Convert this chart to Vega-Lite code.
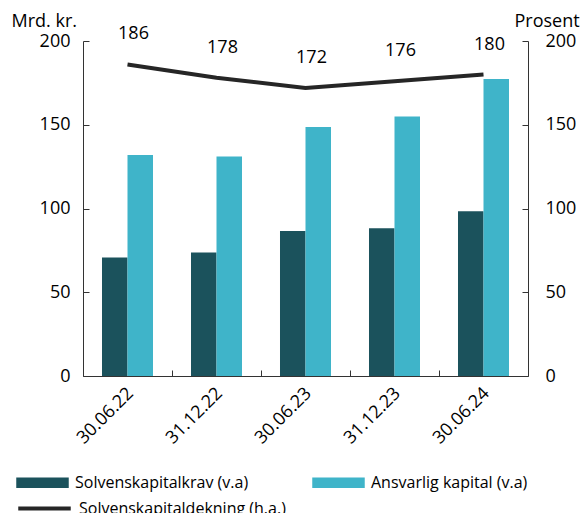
{
  "$schema": "https://vega.github.io/schema/vega-lite/v6.json",
  "width": 445,
  "height": 335,
  "autosize": {"type": "none"},
  "padding": {"left": 83, "top": 41, "right": 57, "bottom": 137},
  "config": {
    "font": "Open Sans",
    "view": {"stroke": null},
    "axis": {"labelFont": "Open Sans", "titleFont": "Open Sans", "labelColor": "#000", "titleColor": "#000", "domainColor": "#333", "tickColor": "#333", "grid": false},
    "legend": {"labelFont": "Open Sans", "labelColor": "#000", "labelLimit": 0}
  },
  "datasets": {
    "bars": [
      {"dato": "30.06.22", "serie": "Solvenskapitalkrav (v.a)", "verdi": 70.8},
      {"dato": "30.06.22", "serie": "Ansvarlig kapital (v.a)", "verdi": 131.9},
      {"dato": "31.12.22", "serie": "Solvenskapitalkrav (v.a)", "verdi": 73.8},
      {"dato": "31.12.22", "serie": "Ansvarlig kapital (v.a)", "verdi": 131.1},
      {"dato": "30.06.23", "serie": "Solvenskapitalkrav (v.a)", "verdi": 86.6},
      {"dato": "30.06.23", "serie": "Ansvarlig kapital (v.a)", "verdi": 148.7},
      {"dato": "31.12.23", "serie": "Solvenskapitalkrav (v.a)", "verdi": 88.2},
      {"dato": "31.12.23", "serie": "Ansvarlig kapital (v.a)", "verdi": 155.0},
      {"dato": "30.06.24", "serie": "Solvenskapitalkrav (v.a)", "verdi": 98.3},
      {"dato": "30.06.24", "serie": "Ansvarlig kapital (v.a)", "verdi": 177.3}
    ],
    "linje": [
      {"dato": "30.06.22", "serie": "Solvenskapitaldekning (h.a.)", "prosent": 186},
      {"dato": "31.12.22", "serie": "Solvenskapitaldekning (h.a.)", "prosent": 178},
      {"dato": "30.06.23", "serie": "Solvenskapitaldekning (h.a.)", "prosent": 172},
      {"dato": "31.12.23", "serie": "Solvenskapitaldekning (h.a.)", "prosent": 176},
      {"dato": "30.06.24", "serie": "Solvenskapitaldekning (h.a.)", "prosent": 180}
    ]
  },
  "layer": [
    {
      "data": {"name": "bars"},
      "mark": {"type": "bar"},
      "encoding": {
        "x": {
          "field": "dato", "type": "nominal", "sort": null,
          "scale": {"paddingInner": 0, "paddingOuter": 0},
          "axis": {"title": null, "labelAngle": -45, "labelFontSize": 18, "labelPadding": 14, "labelOffset": -3, "tickSize": -6, "bandPosition": 0, "domainColor": "#333"}
        },
        "xOffset": {
          "field": "serie", "type": "nominal",
          "sort": ["Solvenskapitalkrav (v.a)", "Ansvarlig kapital (v.a)"],
          "scale": {"paddingInner": 0, "paddingOuter": 0.745}
        },
        "y": {
          "field": "verdi", "type": "quantitative",
          "scale": {"domain": [0, 200], "nice": false},
          "axis": {"title": "Mrd. kr.", "titleAngle": 0, "titleX": -72, "titleY": -20, "titleAlign": "left", "titleBaseline": "middle", "titleFontSize": 18, "titleFontWeight": "normal", "labelFontSize": 18, "labelPadding": 19, "tickSize": -6, "values": [0, 50, 100, 150, 200], "orient": "left"}
        },
        "fill": {
          "field": "serie", "type": "nominal",
          "sort": ["Solvenskapitalkrav (v.a)", "Ansvarlig kapital (v.a)"],
          "scale": {"domain": ["Solvenskapitalkrav (v.a)", "Ansvarlig kapital (v.a)"], "range": ["#1b525c", "#3fb4c9"]},
          "legend": {"title": null, "orient": "none", "legendX": -67, "legendY": 415, "direction": "horizontal", "columns": 2, "columnPadding": 63, "labelFontSize": 16, "labelLimit": 0, "symbolType": "M-1,-0.204H1V0.204H-1Z", "symbolSize": 2756, "symbolStrokeWidth": 0, "labelOffset": 6}
        }
      }
    },
    {
      "data": {"name": "linje"},
      "layer": [
        {
          "mark": {"type": "line", "strokeWidth": 4},
          "encoding": {
            "x": {"field": "dato", "type": "nominal", "sort": null},
            "y": {
              "field": "prosent", "type": "quantitative",
              "scale": {"domain": [0, 200], "nice": false},
              "axis": {"title": "Prosent", "orient": "right", "titleAngle": 0, "titleX": -14, "titleY": -20, "titleAlign": "left", "titleBaseline": "middle", "titleFontSize": 18, "titleFontWeight": "normal", "labelFontSize": 18, "labelPadding": 23, "tickSize": -6, "values": [0, 50, 100, 150, 200]}
            },
            "stroke": {
              "field": "serie", "type": "nominal",
              "scale": {"range": ["#262626"]},
              "legend": {"title": null, "orient": "none", "legendX": -67, "legendY": 439, "labelFontSize": 16, "labelLimit": 0, "symbolType": "stroke", "symbolSize": 2756, "symbolStrokeWidth": 4, "labelOffset": 6}
            }
          }
        },
        {
          "mark": {"type": "text", "fontSize": 18, "dx": 6, "dy": -30, "color": "#000"},
          "encoding": {
            "x": {"field": "dato", "type": "nominal", "sort": null},
            "y": {"field": "prosent", "type": "quantitative"},
            "text": {"field": "prosent", "type": "quantitative"}
          }
        }
      ]
    }
  ],
  "resolve": {"scale": {"y": "independent"}}
}
